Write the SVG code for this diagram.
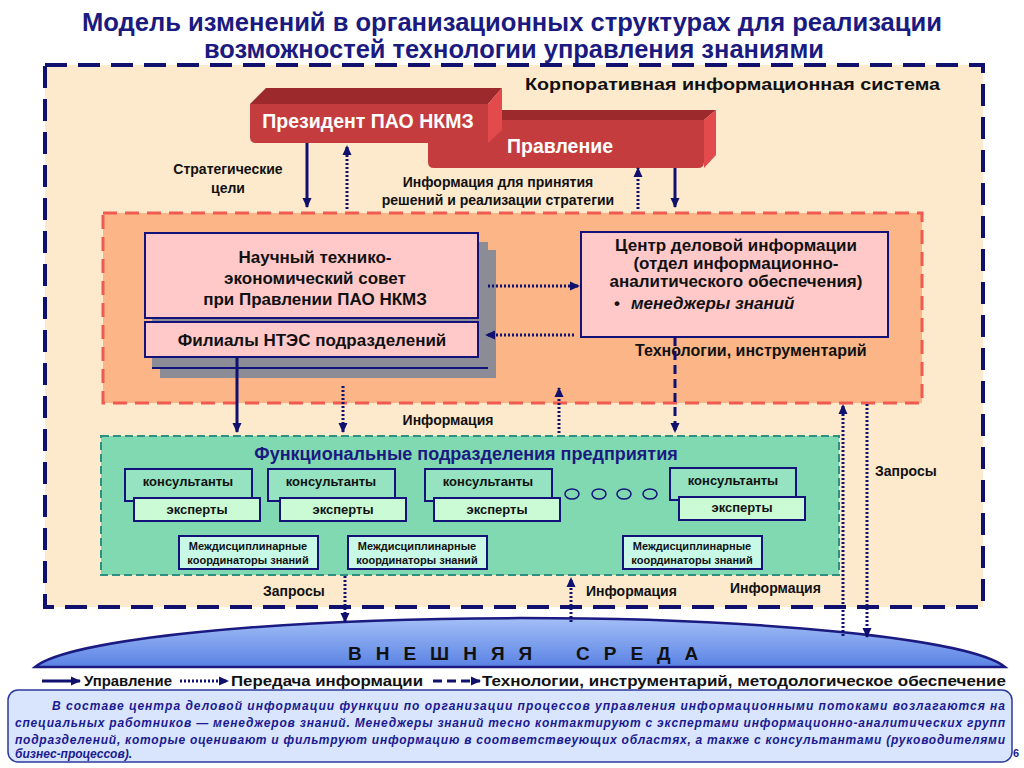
<svg xmlns="http://www.w3.org/2000/svg" width="1024" height="768" viewBox="0 0 1024 768">
<defs>
<style>
.t{font-family:"Liberation Sans",Arial,sans-serif;font-weight:bold;fill:#111}
.w{fill:#fff}
.nv{fill:#1a1a80}
.c{text-anchor:middle}
.sol{stroke:#10106e;stroke-width:3;fill:none}
.dot{stroke:#10106e;stroke-width:3;stroke-dasharray:2 2;fill:none}
.dsh{stroke:#10106e;stroke-width:3;stroke-dasharray:9 5;fill:none}
.pink{fill:#ffc9c9;stroke:#12127a;stroke-width:2}
.cons{fill:#95e3c0;stroke:#12127a;stroke-width:2}
.exp{fill:#cafbd4;stroke:#12127a;stroke-width:2}
.coord{fill:#c8f8e6;stroke:#12127a;stroke-width:2}
.shd{fill:#8c8c96}
.note{font-family:"Liberation Sans",Arial,sans-serif;font-weight:bold;font-style:italic;fill:#1a1a90;font-size:12px}
</style>
<marker id="ah" markerWidth="10" markerHeight="10" refX="9" refY="5" orient="auto" markerUnits="userSpaceOnUse"><path d="M0,0.5 L10,5 L0,9.5 Z" fill="#10106e"/></marker>
<linearGradient id="sky" x1="0" y1="0" x2="0" y2="1"><stop offset="0" stop-color="#a3bff6"/><stop offset="1" stop-color="#5a82e4"/></linearGradient>
</defs>
<rect width="1024" height="768" fill="#fff"/>

<g id="title">
<text class="t nv" x="512" y="31" font-size="26" text-anchor="middle" textLength="860" lengthAdjust="spacingAndGlyphs">Модель изменений в организационных структурах для реализации</text>
<text class="t nv" x="514" y="58" font-size="26" text-anchor="middle" textLength="620" lengthAdjust="spacingAndGlyphs">возможностей технологии управления знаниями</text>
</g>

<g id="corporate-system">
<rect x="45" y="65" width="938" height="542" fill="#fde9cb" stroke="#10106e" stroke-width="4" stroke-dasharray="22 11"/>
<text class="t" x="525" y="90" font-size="17" textLength="415" lengthAdjust="spacingAndGlyphs">Корпоративная информационная система</text>
</g>

<g id="board">
<polygon points="428,120 442,110 716,110 704,120" fill="#9c2a2c"/>
<polygon points="704,120 716,110 716,155 704,168" fill="#e24a4c"/>
<path d="M428,120 H704 V162 Q704,168 698,168 H434 Q428,168 428,162 Z" fill="#c53c3e"/>
<text class="t w" x="560" y="153" font-size="19.5" text-anchor="middle">Правление</text>
</g>

<g id="president">
<polygon points="250,104 266,88 502,88 488,104" fill="#9c2a2c"/>
<polygon points="488,104 502,88 502,130 488,143" fill="#e24a4c"/>
<path d="M250,104 H488 V137 Q488,143 482,143 H256 Q250,143 250,137 Z" fill="#c53c3e"/>
<text class="t w" x="368" y="128" font-size="19.5" text-anchor="middle">Президент ПАО НКМЗ</text>
</g>

<g id="management-area">
<rect x="103" y="213" width="819" height="190" fill="#fbb586" stroke="#f05a50" stroke-width="3" stroke-dasharray="14 8"/>
</g>

<g id="ntes">
<rect class="shd" x="160" y="250" width="336" height="128"/>
<rect class="shd" x="152" y="242" width="336" height="126"/>
<line x1="152" y1="368" x2="488" y2="368" stroke="#12127a" stroke-width="2"/>
<rect class="pink" x="145" y="233" width="333" height="85"/>
<rect class="pink" x="145" y="322" width="333" height="35"/>
<text class="t c" x="315" y="263" font-size="17">Научный технико-</text>
<text class="t c" x="315" y="284" font-size="17">экономический совет</text>
<text class="t c" x="315" y="305" font-size="17">при Правлении ПАО НКМЗ</text>
<text class="t c" x="312" y="346" font-size="17">Филиалы НТЭС подразделений</text>
</g>

<g id="business-info-center">
<rect class="pink" x="581" y="232" width="307" height="105"/>
<text class="t c" x="736" y="251" font-size="17">Центр деловой информации</text>
<text class="t c" x="736" y="269" font-size="17">(отдел информационно-</text>
<text class="t c" x="736" y="287" font-size="17">аналитического обеспечения)</text>
<text class="t" x="614" y="309" font-size="17">•</text>
<text class="t" x="631" y="309" font-size="17" font-style="italic">менеджеры знаний</text>
<text class="t" x="635" y="356" font-size="16">Технологии, инструментарий</text>
</g>

<g id="functional-units">
<rect x="101" y="436" width="738" height="139" fill="#80d9b1" stroke="#2f8f80" stroke-width="2" stroke-dasharray="8 4"/>
<text class="t c" x="466" y="460" font-size="18" style="fill:#1a1a80">Функциональные подразделения предприятия</text>
</g>

<g id="unit-1">
<rect class="cons" x="125" y="469" width="127" height="32"/>
<rect class="exp" x="134" y="498" width="126" height="23"/>
<text class="t c" x="188" y="486" font-size="13">консультанты</text>
<text class="t c" x="197" y="514" font-size="13">эксперты</text>
</g>
<g id="unit-2">
<rect class="cons" x="268" y="469" width="127" height="32"/>
<rect class="exp" x="280" y="498" width="126" height="23"/>
<text class="t c" x="331" y="486" font-size="13">консультанты</text>
<text class="t c" x="343" y="514" font-size="13">эксперты</text>
</g>
<g id="unit-3">
<rect class="cons" x="425" y="469" width="127" height="32"/>
<rect class="exp" x="434" y="498" width="126" height="23"/>
<text class="t c" x="488" y="486" font-size="13">консультанты</text>
<text class="t c" x="497" y="514" font-size="13">эксперты</text>
</g>
<g id="ellipsis">
<ellipse cx="572" cy="494" rx="7" ry="5" fill="none" stroke="#12127a" stroke-width="1.5"/>
<ellipse cx="599" cy="494" rx="7" ry="5" fill="none" stroke="#12127a" stroke-width="1.5"/>
<ellipse cx="624" cy="494" rx="7" ry="5" fill="none" stroke="#12127a" stroke-width="1.5"/>
<ellipse cx="650" cy="494" rx="7" ry="5" fill="none" stroke="#12127a" stroke-width="1.5"/>
</g>
<g id="unit-4">
<rect class="cons" x="670" y="468" width="126" height="32"/>
<rect class="exp" x="679" y="497" width="126" height="23"/>
<text class="t c" x="733" y="485" font-size="13">консультанты</text>
<text class="t c" x="742" y="512" font-size="13">эксперты</text>
</g>

<g id="coord-1">
<rect class="coord" x="179" y="536" width="139" height="33"/>
<text class="t c" x="248" y="550" font-size="11">Междисциплинарные</text>
<text class="t c" x="248" y="564" font-size="11">координаторы знаний</text>
</g>
<g id="coord-2">
<rect class="coord" x="348" y="536" width="139" height="33"/>
<text class="t c" x="417" y="550" font-size="11">Междисциплинарные</text>
<text class="t c" x="417" y="564" font-size="11">координаторы знаний</text>
</g>
<g id="coord-3">
<rect class="coord" x="623" y="536" width="139" height="33"/>
<text class="t c" x="692" y="550" font-size="11">Междисциплинарные</text>
<text class="t c" x="692" y="564" font-size="11">координаторы знаний</text>
</g>

<g id="external-environment">
<path d="M35,667 A490,57 0 0 1 1005,667 Z" fill="url(#sky)" stroke="#1a1a80" stroke-width="2.5"/>
<text class="t" x="348" y="660" font-size="19" letter-spacing="14">ВНЕШНЯЯ</text>
<text class="t" x="576" y="660" font-size="19" letter-spacing="14">СРЕДА</text>
</g>

<g id="connectors">
<line class="sol" x1="307" y1="143" x2="307" y2="207" marker-end="url(#ah)"/>
<line class="dot" x1="347" y1="209" x2="347" y2="146" marker-end="url(#ah)"/>
<line class="dot" x1="638" y1="209" x2="638" y2="168" marker-end="url(#ah)"/>
<line class="sol" x1="675" y1="168" x2="675" y2="207" marker-end="url(#ah)"/>
<line class="dot" x1="488" y1="286" x2="579" y2="286" marker-end="url(#ah)"/>
<line class="dot" x1="574" y1="335" x2="486" y2="335" marker-end="url(#ah)"/>
<line class="dsh" x1="675" y1="337" x2="675" y2="432" marker-end="url(#ah)"/>
<line class="sol" x1="237" y1="357" x2="237" y2="432" marker-end="url(#ah)"/>
<line class="dot" x1="343" y1="386" x2="343" y2="432" marker-end="url(#ah)"/>
<line class="dot" x1="559" y1="433" x2="559" y2="388" marker-end="url(#ah)"/>
<line class="dot" x1="843" y1="636" x2="843" y2="405" marker-end="url(#ah)"/>
<line class="dot" x1="867" y1="404" x2="867" y2="637" marker-end="url(#ah)"/>
<line class="dot" x1="345" y1="576" x2="345" y2="622" marker-end="url(#ah)"/>
<line class="dot" x1="571" y1="622" x2="571" y2="578" marker-end="url(#ah)"/>
</g>

<g id="connector-labels">
<text class="t c" x="228" y="174" font-size="14">Стратегические</text>
<text class="t c" x="228" y="193" font-size="14">цели</text>
<text class="t c" x="498" y="187" font-size="14">Информация для принятия</text>
<text class="t c" x="498" y="205" font-size="14">решений и реализации стратегии</text>
<text class="t c" x="448" y="425" font-size="14">Информация</text>
<text class="t" x="875" y="476" font-size="14">Запросы</text>
<text class="t" x="263" y="596" font-size="14">Запросы</text>
<text class="t" x="586" y="596" font-size="14">Информация</text>
<text class="t" x="730" y="593" font-size="14">Информация</text>
</g>

<g id="legend">
<line class="sol" x1="42" y1="681" x2="80" y2="681" marker-end="url(#ah)"/>
<text class="t" x="84" y="686" font-size="15" textLength="88" lengthAdjust="spacingAndGlyphs">Управление</text>
<line class="dot" x1="180" y1="681" x2="228" y2="681" marker-end="url(#ah)"/>
<text class="t" x="231" y="686" font-size="15" textLength="192" lengthAdjust="spacingAndGlyphs">Передача информации</text>
<line class="dsh" x1="433" y1="681" x2="480" y2="681" marker-end="url(#ah)"/>
<text class="t" x="482" y="686" font-size="15" textLength="524" lengthAdjust="spacingAndGlyphs">Технологии, инструментарий, методологическое обеспечение</text>
</g>

<g id="note">
<rect x="8" y="690" width="1004" height="72" rx="10" fill="#d9e5fc" stroke="#2c3a9c" stroke-width="1.5"/>
<text class="note" x="52" y="710" textLength="953" lengthAdjust="spacing">В составе центра деловой информации функции по организации процессов управления информационными потоками возлагаются на</text>
<text class="note" x="15" y="727" textLength="990" lengthAdjust="spacing">специальных работников — менеджеров знаний. Менеджеры знаний тесно контактируют с экспертами информационно-аналитических групп</text>
<text class="note" x="15" y="744" textLength="990" lengthAdjust="spacing">подразделений, которые оценивают и фильтруют информацию в соответствеующих областях, а также с консультантами (руководителями</text>
<text class="note" x="15" y="758">бизнес-процессов).</text>
<text class="t" x="1013" y="757" font-size="11" style="fill:#1a1a90">6</text>
</g>
</svg>
